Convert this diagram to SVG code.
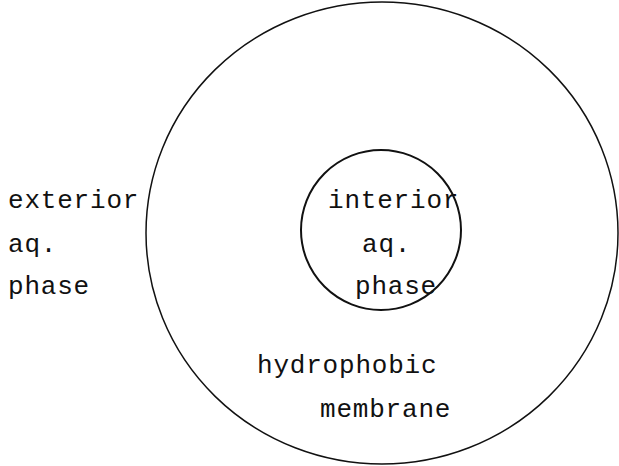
<svg xmlns="http://www.w3.org/2000/svg" width="619" height="466" viewBox="0 0 619 466">
<style>
.t{font-family:"Liberation Mono","Courier New",monospace;font-size:26px;letter-spacing:0.8px;fill:#111}
.c{fill:none;stroke:#111}
</style>
<rect width="619" height="466" fill="#fff"/>
<g id="outer"><ellipse class="c" cx="382" cy="233" rx="236" ry="231" stroke-width="1.5"/></g>
<g id="inner"><circle class="c" cx="381" cy="230" r="80" stroke-width="2"/></g>
<g id="exterior">
<text class="t" x="8" y="208">exterior</text>
<text class="t" x="8" y="252">aq.</text>
<text class="t" x="8" y="294">phase</text>
</g>
<g id="interior">
<text class="t" x="328" y="208">interior</text>
<text class="t" x="362" y="252">aq.</text>
<text class="t" x="355" y="294">phase</text>
</g>
<g id="membrane">
<text class="t" x="257" y="373">hydrophobic</text>
<text class="t" x="320" y="417">membrane</text>
</g>
<g id="connectors"/>
</svg>
